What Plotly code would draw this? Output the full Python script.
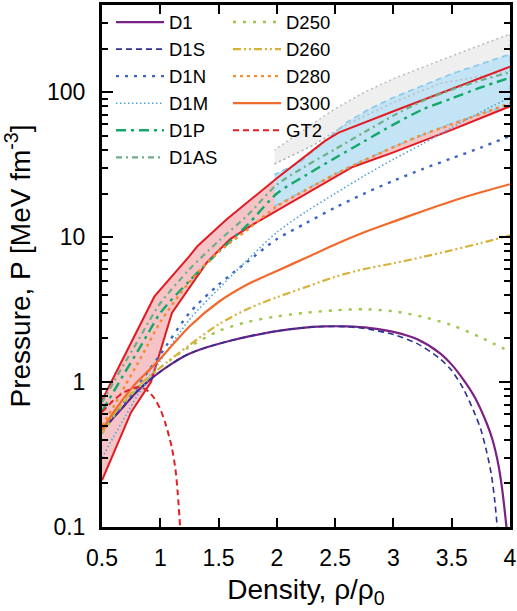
import plotly.graph_objects as go

# ---------------- data ----------------
rho = [0.5, 0.6, 0.7, 0.8, 0.9, 1.0, 1.25, 1.5, 1.75, 2.0, 2.25, 2.5, 2.75, 3.0, 3.25, 3.5, 3.75, 4.0]

d1_rho = [0.5, 0.6, 0.7, 0.8, 0.9, 1.0, 1.1, 1.2, 1.3, 1.4, 1.6, 1.8, 2.0, 2.2, 2.4, 2.6, 2.8, 3.0, 3.2,
          3.4, 3.5, 3.6, 3.7, 3.8, 3.85, 3.9, 3.93, 3.95, 3.97]
d1_p = [0.46, 0.57, 0.7, 0.86, 1.02, 1.18, 1.34, 1.5, 1.63, 1.74, 1.93, 2.1, 2.25, 2.36, 2.42, 2.42,
        2.36, 2.22, 1.98, 1.58, 1.32, 1.04, 0.78, 0.52, 0.4, 0.27, 0.19, 0.14, 0.1]

d1s_rho = [0.5, 0.6, 0.7, 0.8, 0.9, 1.0, 1.1, 1.2, 1.3, 1.4, 1.6, 1.8, 2.0, 2.2, 2.4, 2.6, 2.8, 3.0, 3.2,
           3.4, 3.5, 3.6, 3.7, 3.75, 3.8, 3.84, 3.87, 3.89]
d1s_p = [0.46, 0.57, 0.7, 0.86, 1.02, 1.18, 1.34, 1.5, 1.63, 1.74, 1.93, 2.1, 2.25, 2.36, 2.42, 2.41,
         2.31, 2.13, 1.85, 1.45, 1.2, 0.9, 0.6, 0.47, 0.33, 0.23, 0.15, 0.1]

d1n_p = [0.45, 0.58, 0.73, 0.92, 1.2, 1.55, 3.0, 4.7, 6.8, 9.7, 12.5, 16, 20, 24.5, 29.5, 35, 41.5, 50]
d1m_p = [0.3, 0.42, 0.58, 0.8, 1.05, 1.4, 2.7, 4.4, 7.0, 10.8, 15, 20, 26.5, 34.5, 44, 57, 73, 92]
d1p_p = [0.63, 0.86, 1.18, 1.6, 2.2, 3.0, 5.0, 7.9, 12.2, 20, 26.8, 35.2, 45.9, 59.8, 76, 90.6, 108, 126]
d1as_p = [0.72, 1.0, 1.38, 1.88, 2.6, 3.5, 6.0, 9.4, 14.2, 23, 31, 40.5, 53, 69, 87, 104, 121, 137]
d250_p = [0.44, 0.58, 0.74, 0.9, 1.07, 1.26, 1.75, 2.25, 2.6, 2.84, 3.01, 3.13, 3.18, 3.08, 2.82, 2.47, 2.03, 1.62]
d260_p = [0.45, 0.6, 0.76, 0.92, 1.08, 1.26, 1.8, 2.5, 3.2, 3.85, 4.53, 5.33, 6.03, 6.6, 7.3, 8.13, 9.1, 10.3]
d280_p = [0.5, 0.68, 0.95, 1.32, 1.85, 2.6, 4.9, 7.9, 11.3, 16.3, 21.2, 27.2, 33.9, 41.8, 51, 60, 71, 84]
d300_p = [0.47, 0.62, 0.8, 1.0, 1.2, 1.45, 2.42, 3.57, 4.73, 5.85, 7.2, 8.9, 10.8, 12.8, 15.1, 17.7, 20.4, 23.2]

gt2_rho = [0.5, 0.6, 0.7, 0.8, 0.85, 0.9, 0.95, 1.0, 1.05, 1.1, 1.13, 1.15, 1.17]
gt2_p = [0.62, 0.75, 0.86, 0.92, 0.91, 0.86, 0.77, 0.65, 0.5, 0.35, 0.25, 0.17, 0.1]

# flow-constraint band (red outline)
red_up_rho = [0.5, 0.95, 1.25, 1.32, 1.57, 1.9, 2.0, 2.41, 2.53, 3.0, 3.5, 4.0]
red_up_p = [0.75, 3.9, 7.4, 8.7, 13.3, 22, 25.5, 46, 52.7, 74, 106, 150]
red_lo_rho = [0.5, 0.75, 0.92, 1.1, 1.4, 1.6, 1.8, 2.0, 2.3, 2.65, 3.0, 3.5, 4.0]
red_lo_p = [0.21, 0.62, 1.0, 3.0, 6.7, 9.7, 12.3, 15.2, 21, 30.5, 38.5, 55, 80]

# blue band
blue_up_rho = [1.98, 2.2, 2.4, 2.6, 2.8, 3.0, 3.5, 4.0]
blue_up_p = [27, 33, 45, 62, 77, 92, 134, 183]
blue_lo_rho = [1.98, 2.3, 2.6, 3.0, 3.5, 4.0]
blue_lo_p = [16.4, 22.5, 30, 42, 61, 82]

# gray band
gray_up_rho = [1.98, 2.25, 2.5, 2.75, 3.0, 3.5, 4.0]
gray_up_p = [40, 56, 77, 100, 124, 178, 252]
gray_lo_rho = [1.98, 2.3, 2.6, 3.0, 3.4, 4.0]
gray_lo_p = [32, 42.6, 60, 85, 115, 140]

x_ticks = [0.5, 1, 1.5, 2, 2.5, 3, 3.5, 4]
x_ticktext = ["0.5", "1", "1.5", "2", "2.5", "3", "3.5", "4"]
y_ticks = [0.1, 1, 10, 100]
y_ticktext = ["0.1", "1", "10", "100"]
y_minor = [v * m for m in (0.1, 1, 10, 100) for v in range(2, 10) if v * m <= 400]

# ---------------- figure ----------------
RED = "#e11b22"
fig = go.Figure()

# band fills
fig.add_trace(go.Scatter(x=red_lo_rho + red_up_rho[::-1], y=red_lo_p + red_up_p[::-1],
                         fill="toself", fillcolor="#f6c3c6", mode="lines",
                         line=dict(width=0), showlegend=False, hoverinfo="skip"))
fig.add_trace(go.Scatter(x=gray_lo_rho + gray_up_rho[::-1], y=gray_lo_p + gray_up_p[::-1],
                         fill="toself", fillcolor="#efefef", mode="lines",
                         line=dict(width=1.5, color="#bcbcbc", dash="2px,3px"),
                         showlegend=False, hoverinfo="skip"))
fig.add_trace(go.Scatter(x=blue_lo_rho + blue_up_rho[::-1], y=blue_lo_p + blue_up_p[::-1],
                         fill="toself", fillcolor="#c3e4f5", mode="lines",
                         line=dict(width=1.8, color="#8dcbea", dash="6px,4px"),
                         showlegend=False, hoverinfo="skip"))
fig.add_trace(go.Scatter(x=gray_lo_rho, y=gray_lo_p, mode="lines",
                         line=dict(width=1.5, color="#bcbcbc", dash="2px,3px"),
                         showlegend=False, hoverinfo="skip"))
fig.add_trace(go.Scatter(x=red_up_rho, y=red_up_p, mode="lines", line=dict(width=2, color=RED),
                         showlegend=False, hoverinfo="skip"))
fig.add_trace(go.Scatter(x=red_lo_rho, y=red_lo_p, mode="lines", line=dict(width=2, color=RED),
                         showlegend=False, hoverinfo="skip"))

curves = [
    # name, x, y, color, dash, width, legend, rank
    ("D1", d1_rho, d1_p, "#7b2183", "solid", 2.2, "legend", 1),
    ("D1S", d1s_rho, d1s_p, "#2e3192", "6px,4px", 1.6, "legend", 2),
    ("D1N", rho, d1n_p, "#3a66c2", "3px,6px", 2.4, "legend", 3),
    ("D1M", rho, d1m_p, "#4fa3da", "1.5px,2.5px", 1.6, "legend", 4),
    ("D1P", rho, d1p_p, "#11a86a", "10px,5px,3px,5px", 2.4, "legend", 5),
    ("D1AS", rho, d1as_p, "#6aaf85", "6px,4px,2px,4px", 2.2, "legend", 6),
    ("D250", rho, d250_p, "#9ec64b", "3px,7px", 2.4, "legend2", 1),
    ("D260", rho, d260_p, "#d7b23a", "8px,3px,2px,3px,2px,3px", 2.2, "legend2", 2),
    ("D280", rho, d280_p, "#f28c2e", "3px,4px", 2.4, "legend2", 3),
    ("D300", rho, d300_p, "#f06a2c", "solid", 2.2, "legend2", 4),
    ("GT2", gt2_rho, gt2_p, "#e31e24", "6px,4px", 2.0, "legend2", 5),
]
for name, xs, ys, col, dash, w, leg, rank in curves:
    fig.add_trace(go.Scatter(x=xs, y=ys, mode="lines", name=name,
                             line=dict(color=col, dash=dash, width=w, shape="spline", smoothing=0.8),
                             legend=leg, legendrank=rank, legendgroup=name))

FONT = "Liberation Sans, Arial, sans-serif"
PL, PR, PT, PB = 102, 510, 5, 527


def px_to_paper(xp, yp):
    return (xp - PL) / (PR - PL), (PB - yp) / (PB - PT)


lx1, ly1 = px_to_paper(111, 3.5)
lx2, ly2 = px_to_paper(228, 3.5)
legend_common = dict(font=dict(family=FONT, size=18.5, color="black"), bgcolor="rgba(0,0,0,0)",
                     borderwidth=0, itemwidth=48, tracegroupgap=0,
                     xref="paper", yref="paper", xanchor="left", yanchor="top")
fig.update_layout(
    width=517, height=611,
    margin=dict(l=PL, r=517 - PR, t=PT, b=611 - PB, autoexpand=False),
    paper_bgcolor="white", plot_bgcolor="white",
    font=dict(family=FONT, size=23, color="black"),
    legend=dict(x=lx1, y=ly1, **legend_common),
    legend2=dict(x=lx2, y=ly2, **legend_common),
    xaxis=dict(range=[0.5, 4], tickvals=x_ticks, ticktext=x_ticktext,
               ticks="inside", ticklen=9, tickwidth=1.5, tickcolor="black",
               showline=True, linewidth=3, linecolor="black", mirror="ticks",
               showgrid=False, zeroline=False, ticklabelstandoff=8, automargin=False,
               title=dict(text="Density, ρ/ρ<sub>0</sub>", standoff=10)),
    yaxis=dict(type="log", range=[-1, 2.6021], tickvals=y_ticks, ticktext=y_ticktext,
               ticks="inside", ticklen=11, tickwidth=1.5, tickcolor="black",
               showline=True, linewidth=3, linecolor="black", mirror="ticks",
               showgrid=False, zeroline=False, ticklabelstandoff=9, automargin=False,
               minor=dict(tickvals=y_minor, ticks="inside", ticklen=6, tickwidth=1.5,
                          tickcolor="black", showgrid=False),
               title=dict(text="Pressure, P [MeV fm<sup>-3</sup>]", standoff=10)),
)
fig.write_html("out.html")
